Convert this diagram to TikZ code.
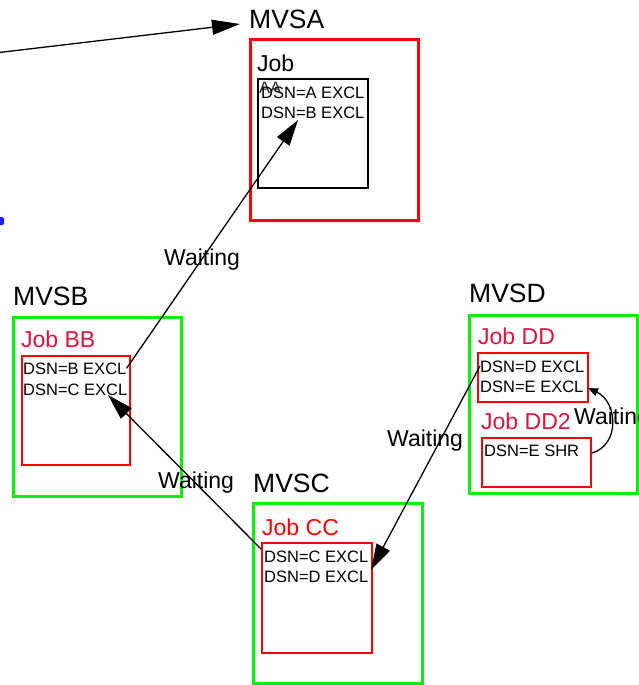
\documentclass[tikz,border=0pt]{standalone}
\usepackage{fontspec}
\setmainfont{Liberation Sans}
\usetikzlibrary{arrows.meta}
\definecolor{mvsgreen}{RGB}{10,240,10}
\definecolor{jobcrimson}{RGB}{220,20,60}
\definecolor{jobred}{RGB}{255,0,0}
\definecolor{blobblue}{RGB}{30,30,255}
\begin{document}
\begin{tikzpicture}[x=1pt,y=-1pt,
  mvslabel/.style={inner sep=0pt, anchor=base west, font=\fontsize{26.5}{30}\selectfont},
  joblabel/.style={inner sep=0pt, anchor=base west, font=\fontsize{23}{26}\selectfont},
  dsn/.style={inner sep=0pt, anchor=base west, font=\fontsize{16.5}{19}\selectfont},
  waitlabel/.style={inner sep=0pt, anchor=base west, font=\fontsize{23}{26}\selectfont},
  greenbox/.style={draw=mvsgreen, line width=3pt, inner sep=0pt},
  redbox/.style={draw=jobred, line width=3pt, inner sep=0pt},
  jobbox/.style={draw=jobred, line width=1.1pt, inner sep=0pt},
  blackbox/.style={draw=black, line width=1.1pt, inner sep=0pt},
  conn/.style={line width=1.3pt, -{Triangle[length=26pt,width=15pt]}},
  smallconn/.style={line width=1.3pt, -{Triangle[length=10pt,width=8pt]}}
]
\useasboundingbox (0,0) rectangle (639,685);

% blue fragment at left edge
\fill[blobblue, rounded corners=1.5pt] (-3,217) rectangle (4,225);

% ---- MVSA ----
\node[redbox, minimum width=168pt, minimum height=180pt] (mvsabox) at (334,130) {};
\node[mvslabel] (mvsa) at (249,29) {MVSA};
\node[blackbox, minimum width=110pt, minimum height=109pt] (jobaabox) at (313,133.5) {};
\node[joblabel] (jobaa) at (257,71) {Job};
\node[dsn, text=black!85] (aa) at (259,93) {AA};
\node[dsn] (a1) at (261,98) {DSN=A EXCL};
\node[dsn] (a2) at (261,118) {DSN=B EXCL};

% ---- MVSB ----
\node[greenbox, minimum width=168pt, minimum height=179pt] (mvsbbox) at (97,406.5) {};
\node[mvslabel] (mvsb) at (13,305) {MVSB};
\node[jobbox, minimum width=108pt, minimum height=109pt] (jobbbbox) at (76,410.5) {};
\node[joblabel, text=jobcrimson] (jobbb) at (21,347) {Job BB};
\node[dsn] (b1) at (23,374) {DSN=B EXCL};
\node[dsn] (b2) at (23,395) {DSN=C EXCL};

% ---- MVSC ----
\node[greenbox, minimum width=169pt, minimum height=180pt] (mvscbox) at (337.5,593) {};
\node[mvslabel] (mvsc) at (253,492) {MVSC};
\node[jobbox, minimum width=110pt, minimum height=110pt] (jobccbox) at (317,598) {};
\node[joblabel, text=jobred] (jobcc) at (262,535) {Job CC};
\node[dsn] (c1) at (264,562) {DSN=C EXCL};
\node[dsn] (c2) at (264,582) {DSN=D EXCL};

% ---- MVSD ----
\node[greenbox, minimum width=168pt, minimum height=178pt] (mvsdbox) at (553,404) {};
\node[mvslabel] (mvsd) at (469,302) {MVSD};
\node[jobbox, minimum width=110pt, minimum height=49pt] (jobddbox) at (533,377.5) {};
\node[joblabel, text=jobcrimson] (jobdd) at (478,344) {Job DD};
\node[dsn] (d1) at (480,372) {DSN=D EXCL};
\node[dsn] (d2) at (480,392) {DSN=E EXCL};
\node[jobbox, minimum width=109pt, minimum height=49pt] (jobdd2box) at (536.5,462.5) {};
\node[joblabel, text=jobcrimson] (jobdd2) at (481,429) {Job DD2};
\node[dsn] (e1) at (484,456) {DSN=E SHR};

% ---- Waiting labels ----
\node[waitlabel] (w1) at (164,265) {Waiting};
\node[waitlabel] (w2) at (158,488) {Waiting};
\node[waitlabel] (w3) at (387,446) {Waiting};
\node[waitlabel] (w4) at (574,424) {Waiting};

% ---- connector end points ----
\coordinate (inpoint) at (-5,53);
\coordinate (a2tip) at (298,120);
\coordinate (c1start) at (261,549);
\coordinate (b2tip) at (108,395);
\coordinate (c2tip) at (371,570);
\coordinate (d1start) at (480,366);
\coordinate (e1start) at (592,453);
\coordinate (d2tip) at (588,388);
\coordinate (mvsatip) at (240,24);

% ---- connectors ----
\draw[line width=1.3pt, -{Triangle[length=28pt,width=15pt]}] (inpoint) -- (mvsatip);
\draw[conn] (b1.east) -- (a2tip);
\draw[conn] (c1start) -- (b2tip);
\draw[conn] (d1start) -- (c2tip);
\draw[smallconn] (e1start) .. controls (620,445) and (618,402) .. (d2tip);
\end{tikzpicture}
\end{document}
